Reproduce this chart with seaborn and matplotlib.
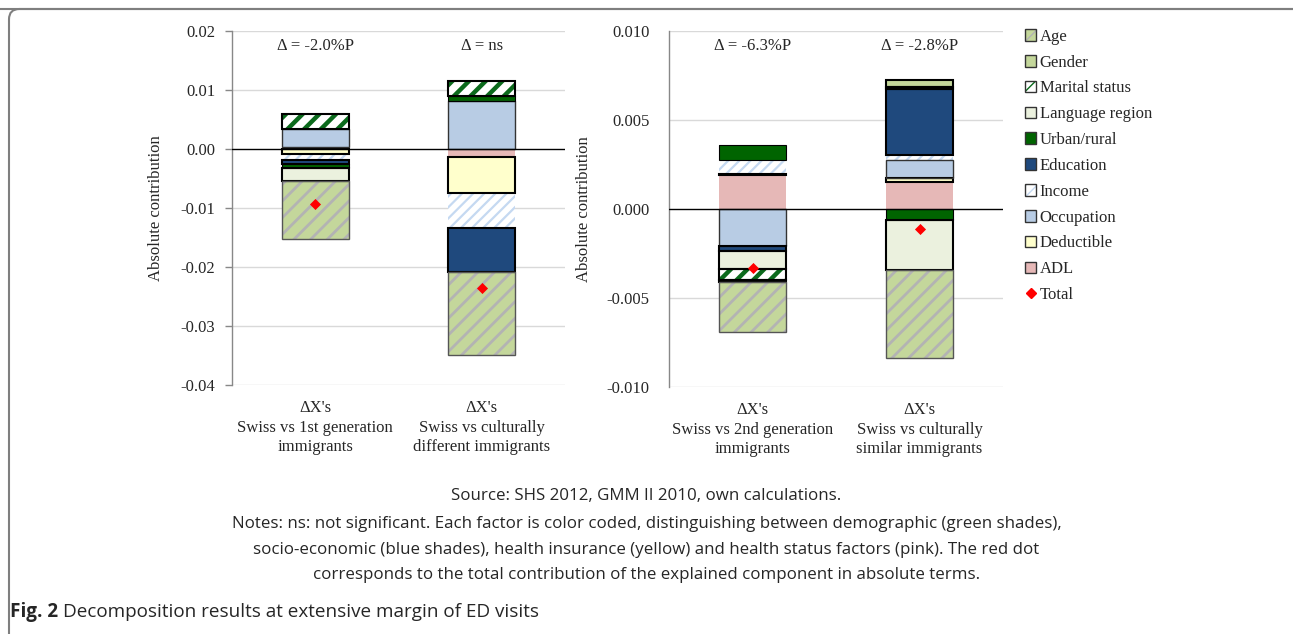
import matplotlib

matplotlib.use('Agg')
import matplotlib.pyplot as plt
import seaborn as sns
from matplotlib.lines import Line2D
from matplotlib.patches import FancyBboxPatch, Patch

# factors in legend order
factors = ['Age', 'Gender', 'Marital status', 'Language region', 'Urban/rural',
           'Education', 'Income', 'Occupation', 'Deductible', 'ADL']

# left panel: 1st generation / culturally different immigrants
left_labels = ["\u0394X's\nSwiss vs 1st generation\nimmigrants",
               "\u0394X's\nSwiss vs culturally\ndifferent immigrants"]
left_deltas = ['\u0394 = -2.0%P', '\u0394 = ns']
left_age = [-0.00976, -0.0141]
left_gender = [0.0, 0.0]
left_marital = [0.00247, 0.00254]
left_language = [-0.0022, 0.0]
left_urban = [-0.00073, 0.00085]
left_education = [-0.00073, -0.0075]
left_income = [-0.00085, -0.0059]
left_occupation = [0.00305, 0.0081]
left_deductible = [-0.00093, -0.0061]
left_adl = [0.00034, -0.00136]
left_total = [-0.0093, -0.0235]
left_ticks = [0.02, 0.01, 0.0, -0.01, -0.02, -0.03, -0.04]

# right panel: 2nd generation / culturally similar immigrants
right_labels = ["\u0394X's\nSwiss vs 2nd generation\nimmigrants",
                "\u0394X's\nSwiss vs culturally\nsimilar immigrants"]
right_deltas = ['\u0394 = -6.3%P', '\u0394 = -2.8%P']
right_age = [-0.00281, -0.00496]
right_gender = [-0.00015, 0.00041]
right_marital = [-0.0006, 0.00011]
right_language = [-0.00099, -0.00277]
right_urban = [0.00082, -0.00064]
right_education = [-0.00032, 0.00369]
right_income = [0.00079, 0.00028]
right_occupation = [-0.00206, 0.00103]
right_deductible = [0.00005, 0.00022]
right_adl = [0.00193, 0.00152]
right_total = [-0.00334, -0.00111]
right_ticks = [0.010, 0.005, 0.0, -0.005, -0.010]

# fill, hatch, hatch colour, edge colour, edge width
styles = {
    'Age': ('#c4d79b', '//', '#b3b3b3', '#555555', 1.0),
    'Gender': ('#c4d79b', None, None, 'black', 1.5),
    'Marital status': ('white', '//', '#0b6a1c', 'black', 1.5),
    'Language region': ('#ebf1de', None, None, 'black', 1.5),
    'Urban/rural': ('#006400', None, None, 'black', 0.8),
    'Education': ('#1f497d', None, None, 'black', 1.5),
    'Income': ('white', '///', '#c5d9f1', None, 0),
    'Occupation': ('#b8cce4', None, None, '#333333', 1.0),
    'Deductible': ('#ffffcc', None, None, 'black', 1.5),
    'ADL': ('#e6b8b7', None, None, None, 0),
}
hatch_widths = {'Age': 2.0, 'Marital status': 3.2, 'Income': 1.6}

sns.set_style('white')
plt.rcParams['font.family'] = ['Liberation Serif', 'DejaVu Serif']
SERIF = 12

fig = plt.figure(figsize=(12.93, 6.34), dpi=100)
W, H = 1293, 634


def draw_segment(ax, x, v, bottom, name):
    fc, hatch, hc, ec, lw = styles[name]
    if hatch:
        with plt.rc_context({'hatch.linewidth': hatch_widths[name]}):
            ax.bar(x, v, bottom=bottom, width=0.4, facecolor=fc, hatch=hatch,
                   edgecolor=hc, linewidth=0, zorder=3)
    else:
        ax.bar(x, v, bottom=bottom, width=0.4, color=fc, linewidth=0, zorder=3)
    if ec:
        ax.bar(x, v, bottom=bottom, width=0.4, fill=False, edgecolor=ec,
               linewidth=lw, zorder=4)


def draw_panel(ax, labels, values, totals, ticks, fmt, deltas, tickmarks):
    stack_order = factors[::-1]
    for i in range(len(labels)):
        pos, neg = 0.0, 0.0
        for name in stack_order:
            v = values[name][i]
            if v == 0:
                continue
            if v > 0:
                draw_segment(ax, i, v, pos, name)
                pos += v
            else:
                draw_segment(ax, i, v, neg, name)
                neg += v
    sns.scatterplot(x=list(range(len(totals))), y=totals, marker='D', color='red',
                    s=32, linewidth=0, ax=ax, zorder=6, legend=False)
    ax.set_xlim(-0.5, len(labels) - 0.5)
    ax.set_ylim(ticks[-1], ticks[0])
    ax.set_yticks(ticks)
    ax.set_yticklabels([fmt.format(t) for t in ticks], fontsize=SERIF)
    for t in ticks:
        if t != 0:
            ax.axhline(t, color='#d9d9d9', lw=1, zorder=1)
    ax.axhline(0, color='black', lw=1, zorder=5)
    ax.set_xticks(range(len(labels)))
    ax.set_xticklabels(labels, fontsize=SERIF, linespacing=1.3)
    ax.tick_params(axis='x', length=0, pad=11)
    if tickmarks:
        ax.tick_params(axis='y', length=5, width=1, color='#888888', pad=7, left=True)
    else:
        ax.tick_params(axis='y', length=0, pad=14)
    for s in ['top', 'right', 'bottom']:
        ax.spines[s].set_visible(False)
    ax.spines['left'].set_color('#888888')
    ax.spines['left'].set_linewidth(1)
    ax.set_ylabel('Absolute contribution', fontsize=SERIF)
    for i, d in enumerate(deltas):
        ax.text(i, 0.958, d, transform=ax.get_xaxis_transform(), ha='center',
                va='center', fontsize=SERIF)


ax1 = fig.add_axes([232 / W, 1 - 385 / H, 333 / W, 354 / H])
ax2 = fig.add_axes([669 / W, 1 - 387 / H, 334 / W, 356 / H])

left_values = dict(zip(factors, [left_age, left_gender, left_marital, left_language,
                                 left_urban, left_education, left_income,
                                 left_occupation, left_deductible, left_adl]))
right_values = dict(zip(factors, [right_age, right_gender, right_marital, right_language,
                                  right_urban, right_education, right_income,
                                  right_occupation, right_deductible, right_adl]))

draw_panel(ax1, left_labels, left_values, left_total, left_ticks, '{:.2f}', left_deltas, True)
draw_panel(ax2, right_labels, right_values, right_total, right_ticks, '{:.3f}', right_deltas, False)
ax1.yaxis.set_label_coords(-(232 - 164) / 333, 0.5)
ax2.yaxis.set_label_coords(-(669 - 592) / 334, 0.5)

# legend
handles = []
for name in factors:
    fc, hatch, hc, ec, lw = styles[name]
    if hatch:
        h = (Patch(facecolor=fc, hatch=hatch, edgecolor=hc, linewidth=0),
             Patch(fill=False, edgecolor='#333333', linewidth=1))
    else:
        h = Patch(facecolor=fc, edgecolor='#333333', linewidth=1)
    handles.append(h)
handles.append(Line2D([], [], marker='D', color='red', linestyle='none', markersize=5))
fig.legend(handles, factors + ['Total'], loc='upper left',
           bbox_to_anchor=(1018 / W, 1 - 22 / H), frameon=False, fontsize=SERIF,
           handlelength=0.7, handleheight=0.7, handletextpad=0.2, labelspacing=0.59,
           borderaxespad=0)

# notes below the chart
SANS = ['Open Sans', 'DejaVu Sans']
notes = ('Notes: ns: not significant. Each factor is color coded, distinguishing between '
         'demographic (green shades),\nsocio-economic (blue shades), health insurance '
         '(yellow) and health status factors (pink). The red dot\ncorresponds to the total '
         'contribution of the explained component in absolute terms.')
fig.text(0.5, 1 - 496 / H, 'Source: SHS 2012, GMM II 2010, own calculations.',
         ha='center', va='center', fontsize=12.2, family=SANS)
fig.text(0.5, 1 - 549.5 / H, notes, ha='center', va='center', fontsize=12.2,
         family=SANS, linespacing=1.82)

# caption
cap = fig.text(10 / W, 1 - 612 / H, 'Fig. 2', ha='left', va='center', fontsize=13.6,
               family=SANS, weight='bold')
fig.canvas.draw()
bb = cap.get_window_extent()
fig.text((bb.x1 + 5) / W, 1 - 612 / H, 'Decomposition results at extensive margin of ED visits',
         ha='left', va='center', fontsize=13.6, family=SANS)

# outer frame
frame = FancyBboxPatch((9 / W, -0.1), 1.2, 1.1 - 9 / H, transform=fig.transFigure,
                       boxstyle='round,pad=0,rounding_size=0.008', mutation_aspect=2.04,
                       fill=False, edgecolor='#7f7f7f', linewidth=1.5, clip_on=False)
fig.patches.append(frame)
frame2 = FancyBboxPatch((-0.2, -0.1), 1.2 + 1291 / W, 1.1 - 9 / H, transform=fig.transFigure,
                        boxstyle='round,pad=0,rounding_size=0.008', mutation_aspect=2.04,
                        fill=False, edgecolor='#7f7f7f', linewidth=1.5, clip_on=False)
fig.patches.append(frame2)

fig.savefig('out.png', dpi=100)
